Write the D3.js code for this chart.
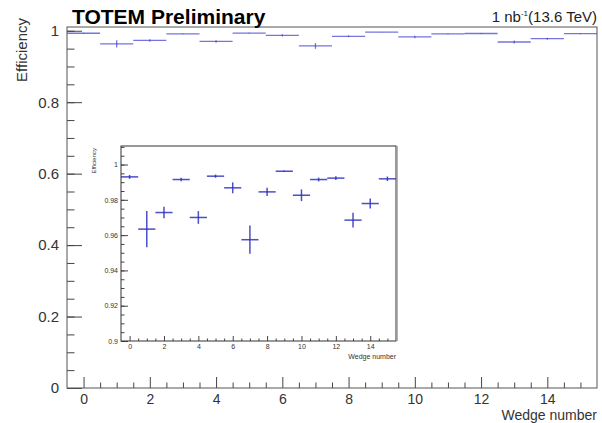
<!DOCTYPE html>
<html>
<head>
<meta charset="utf-8">
<script src="https://cdn.jsdelivr.net/npm/d3@7"></script>
<style>
  body { margin: 0; background: #fff; }
  svg { font-family: "Liberation Sans", Arial, sans-serif; }
  .axis path.domain { display: none; }
  .axis line { stroke: #444; }
  .axis text { fill: #333; }
</style>
</head>
<body>
<div id="chart"></div>
<script>
const width = 602;
const height = 423;

// data: wedge efficiency
const wedges = [0, 1, 2, 3, 4, 5, 6, 7, 8, 9, 10, 11, 12, 13, 14, 15];
const efficiency = [0.9930, 0.9634, 0.9728, 0.9915, 0.9700, 0.9934, 0.9868, 0.9574,
  0.9845, 0.9962, 0.9826, 0.9915, 0.9923, 0.9685, 0.9779, 0.9919];
const effError = [0.0011, 0.0103, 0.0033, 0.0010, 0.0036, 0.0009, 0.0031, 0.0080,
  0.0023, 0.0004, 0.0033, 0.0011, 0.0011, 0.0042, 0.0028, 0.0013];

const xTicks = [0, 2, 4, 6, 8, 10, 12, 14];
const yTicksMain = [0, 0.2, 0.4, 0.6, 0.8, 1];
const yTicksInset = [0.9, 0.92, 0.94, 0.96, 0.98, 1];

const points = wedges.map((w, i) => ({ wedge: w, eff: efficiency[i], err: effError[i] }));

const main = { left: 67, right: 597, top: 27, bottom: 388 };
const inset = { left: 121, right: 396, top: 146, bottom: 341 };

const svg = d3.select('#chart').append('svg')
  .attr('width', width)
  .attr('height', height);

// minor ticks in between majors
function minorTicks(lo, hi, step) {
  const out = [];
  for (let v = lo; v <= hi + 1e-9; v += step) out.push(+v.toFixed(4));
  return out;
}

function drawPanel(g, box, yDomain, opts) {
  const x = d3.scaleLinear().domain([-0.5, 15.5]).range([box.left, box.right]);
  const y = d3.scaleLinear().domain(yDomain).range([box.bottom, box.top]);

  g.append('rect')
    .attr('x', box.left).attr('y', box.top)
    .attr('width', box.right - box.left).attr('height', box.bottom - box.top)
    .attr('fill', '#fff');

  // x axis
  g.append('g').attr('class', 'axis')
    .attr('transform', `translate(0,${box.bottom})`)
    .call(d3.axisBottom(x).tickValues(minorTicks(-0.5, 15.5, 0.5).filter(v => v > -0.5 && v < 15.5 && !xTicks.includes(v)))
      .tickFormat('').tickSizeInner(-opts.xMinor).tickSizeOuter(0));
  g.append('g').attr('class', 'axis')
    .attr('transform', `translate(0,${box.bottom})`)
    .call(d3.axisBottom(x).tickValues(xTicks).tickSizeInner(-opts.xMajor).tickSizeOuter(0).tickPadding(opts.xPad))
    .selectAll('text').style('font-size', opts.xFont + 'px');

  // y axis
  g.append('g').attr('class', 'axis')
    .attr('transform', `translate(${box.left},0)`)
    .call(d3.axisLeft(y).tickValues(minorTicks(yDomain[0], yDomain[1], opts.yMinorStep))
      .tickFormat('').tickSizeInner(-opts.yMinor).tickSizeOuter(0));
  g.append('g').attr('class', 'axis')
    .attr('transform', `translate(${box.left},0)`)
    .call(d3.axisLeft(y).tickValues(opts.yTicks).tickFormat(d => d3.format('~g')(d))
      .tickSizeInner(-opts.yMajor).tickSizeOuter(0).tickPadding(opts.yPad))
    .selectAll('text').style('font-size', opts.font + 'px');

  // error bars
  const pts = g.append('g')
    .attr('stroke', opts.color)
    .attr('stroke-width', opts.lw)
    .attr('stroke-opacity', opts.opacity);
  pts.selectAll('line.h').data(points).join('line').attr('class', 'h')
    .attr('x1', d => x(d.wedge - 0.5)).attr('x2', d => x(d.wedge + 0.5))
    .attr('y1', d => y(d.eff)).attr('y2', d => y(d.eff));
  pts.selectAll('line.v').data(points).join('line').attr('class', 'v')
    .attr('x1', d => x(d.wedge)).attr('x2', d => x(d.wedge))
    .attr('y1', d => y(d.eff - d.err)).attr('y2', d => y(d.eff + d.err));

  // frame
  g.append('rect')
    .attr('x', box.left).attr('y', box.top)
    .attr('width', box.right - box.left).attr('height', box.bottom - box.top)
    .attr('fill', 'none').attr('stroke', opts.frame).attr('stroke-width', 1);
}

const gMain = svg.append('g');
drawPanel(gMain, main, [0, 1.0105], {
  xMajor: 11, xMinor: 5.5, yMajor: 15, yMinor: 7.5, xPad: 6, yPad: 8,
  yMinorStep: 0.05, yTicks: yTicksMain, font: 15, xFont: 14,
  color: '#3b3bcf', lw: 1.3, opacity: 0.7, frame: '#555'
});

const gInset = svg.append('g');
drawPanel(gInset, inset, [0.9, 1.0105], {
  xMajor: 5, xMinor: 2.5, yMajor: 7, yMinor: 3.5, xPad: 3, yPad: 3,
  yMinorStep: 0.005, yTicks: yTicksInset, font: 7, xFont: 7,
  color: '#2f2fbf', lw: 1.5, opacity: 0.85, frame: '#333'
});
// pad shadow on right edge of inset
gInset.append('line')
  .attr('x1', inset.right + 1).attr('x2', inset.right + 1)
  .attr('y1', inset.top).attr('y2', inset.bottom)
  .attr('stroke', '#999').attr('stroke-width', 1.5);

// titles
svg.append('text')
  .attr('x', 72).attr('y', 24)
  .style('font-size', '21px').style('font-weight', 'bold')
  .text('TOTEM Preliminary');

const lumi = svg.append('text')
  .attr('x', 597).attr('y', 22)
  .attr('text-anchor', 'end')
  .style('font-size', '15px').attr('fill', '#222');
lumi.append('tspan').text('1 nb');
lumi.append('tspan').attr('dy', -6).style('font-size', '8px').text('-1');
lumi.append('tspan').attr('dy', 6).text('(13.6 TeV)');

svg.append('text')
  .attr('transform', 'translate(27,18) rotate(-90)')
  .attr('text-anchor', 'end')
  .style('font-size', '15px').attr('fill', '#333')
  .text('Efficiency');

svg.append('text')
  .attr('x', 597).attr('y', 420)
  .attr('text-anchor', 'end')
  .style('font-size', '14px').attr('fill', '#333')
  .text('Wedge number');

svg.append('text')
  .attr('transform', 'translate(96,148) rotate(-90)')
  .attr('text-anchor', 'end')
  .style('font-size', '6px').attr('fill', '#333')
  .text('Efficiency');

svg.append('text')
  .attr('x', 396).attr('y', 359)
  .attr('text-anchor', 'end')
  .style('font-size', '7px').attr('fill', '#333')
  .text('Wedge number');
</script>
</body>
</html>
